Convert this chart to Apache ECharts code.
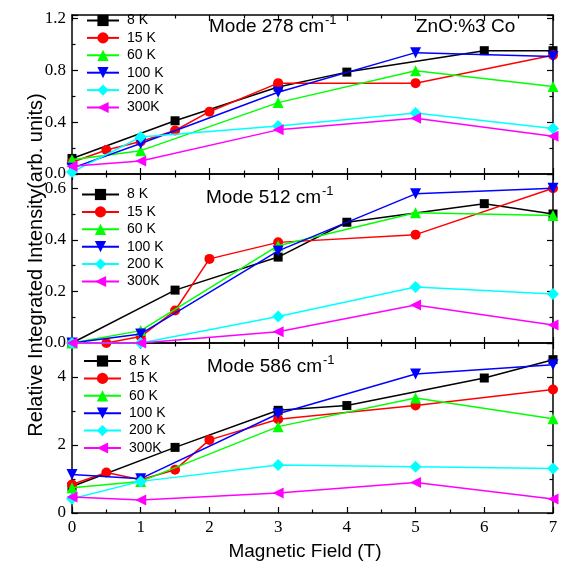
<!DOCTYPE html>
<html>
<head>
<meta charset="utf-8">
<script src="https://cdn.jsdelivr.net/npm/echarts@6/dist/echarts.min.js"></script>
<style>html,body{margin:0;padding:0;background:#fff}#c{width:567px;height:565px}</style>
</head>
<body>
<div id="c"></div>
<script>
// ---- data ----
const seriesNames = ['8 K', '15 K', '60 K', '100 K', '200 K', '300K'];
const xTicks = [0, 1, 2, 3, 4, 5, 6, 7];

// Mode 278 cm-1  [field (T), intensity]
const m278_8K   = [[0,0.12],[1.5,0.41],[3,0.67],[4,0.785],[6,0.95],[7,0.95]];
const m278_15K  = [[0,0.09],[0.5,0.185],[1,0.25],[1.5,0.335],[2,0.48],[3,0.70],[5,0.70],[7,0.915]];
const m278_60K  = [[0,0.11],[1,0.18],[3,0.55],[5,0.795],[7,0.675]];
const m278_100K = [[0,0.045],[1,0.235],[3,0.63],[5,0.935],[7,0.905]];
const m278_200K = [[0,0.015],[1,0.285],[3,0.37],[5,0.47],[7,0.35]];
const m278_300K = [[0,0.06],[1,0.10],[3,0.34],[5,0.43],[7,0.29]];

// Mode 512 cm-1
const m512_8K   = [[0,0],[1.5,0.205],[3,0.333],[4,0.468],[6,0.54],[7,0.50]];
const m512_15K  = [[0,0],[0.5,0],[1,0.025],[1.5,0.126],[2,0.326],[3,0.39],[5,0.42],[7,0.60]];
const m512_60K  = [[0,0],[1,0.048],[3,0.377],[5,0.505],[7,0.494]];
const m512_100K = [[0,0],[1,0.035],[3,0.357],[5,0.578],[7,0.60]];
const m512_200K = [[0,0],[1,0],[3,0.103],[5,0.217],[7,0.19]];
const m512_300K = [[0,0],[1,0],[3,0.044],[5,0.147],[7,0.07]];

// Mode 586 cm-1
const m586_8K   = [[0,0.78],[1.5,1.93],[3,3.02],[4,3.16],[6,3.97],[7,4.51]];
const m586_15K  = [[0,0.84],[0.5,1.19],[1,0.98],[1.5,1.27],[2,2.15],[3,2.76],[5,3.16],[7,3.63]];
const m586_60K  = [[0,0.74],[1,0.93],[3,2.54],[5,3.38],[7,2.77]];
const m586_100K = [[0,1.13],[1,1.01],[3,2.92],[5,4.09],[7,4.36]];
const m586_200K = [[0,0.42],[1,0.93],[3,1.41],[5,1.36],[7,1.31]];
const m586_300K = [[0,0.47],[1,0.38],[3,0.59],[5,0.90],[7,0.41]];

const panelLabels = ['Mode 278 cm', 'Mode 512 cm', 'Mode 586 cm'];
const yRanges = [[0, 1.225, 0.4], [0, 0.655, 0.2], [0, 5, 2]];

// ---- styles ----
const colors = ['#000000', '#ff0000', '#00ff00', '#0000ff', '#00ffff', '#ff00ff'];
const symbols = ['rect', 'circle', 'triangle', 'path://M0,0 L10,0 L5,10 Z', 'diamond', 'path://M0,5 L10,0 L10,10 Z'];
const symSizes = [9, 10, 11, 11, 12, 11];

const panelData = [
  [m278_8K, m278_15K, m278_60K, m278_100K, m278_200K, m278_300K],
  [m512_8K, m512_15K, m512_60K, m512_100K, m512_200K, m512_300K],
  [m586_8K, m586_15K, m586_60K, m586_100K, m586_200K, m586_300K]
];

const grids = [
  {left: 72, width: 481, top: 15, height: 159},
  {left: 72, width: 481, top: 174, height: 169},
  {left: 72, width: 481, top: 343, height: 170}
];

const axisLineStyle = {show: true, onZero: false, lineStyle: {color: '#000', width: 1.5}};
const tickStyle = {show: true, inside: true, length: 6, lineStyle: {color: '#000', width: 1.2}};
const minorStyle = {show: true, splitNumber: 2, length: 3.5, lineStyle: {color: '#000', width: 1.2}};
const labelFont = {fontFamily: 'Liberation Serif', fontSize: 17, color: '#000'};

const xAxes = [], yAxes = [], series = [], legends = [];
grids.forEach((g, i) => {
  const xi = xAxes.length;
  xAxes.push({
    gridIndex: i, type: 'value', min: 0, max: 7, interval: 1, position: 'bottom',
    axisLine: axisLineStyle, axisTick: tickStyle, minorTick: minorStyle, splitLine: {show: false},
    axisLabel: Object.assign({show: i === 2, margin: 6, formatter: v => xTicks.includes(v) ? String(v) : ''}, labelFont)
  });
  xAxes.push({
    gridIndex: i, type: 'value', min: 0, max: 7, interval: 1, position: 'top',
    axisLine: axisLineStyle, axisTick: tickStyle, minorTick: minorStyle, splitLine: {show: false},
    axisLabel: {show: false}
  });
  const yi = yAxes.length;
  const [mn, mx, iv] = yRanges[i];
  yAxes.push({
    gridIndex: i, type: 'value', min: mn, max: mx, interval: iv, position: 'left',
    axisLine: axisLineStyle, axisTick: tickStyle, minorTick: minorStyle, splitLine: {show: false},
    axisLabel: Object.assign({show: true, margin: 6, showMaxLabel: false,
      formatter: v => i === 2 ? String(Math.round(v)) : v.toFixed(1)}, labelFont)
  });
  yAxes.push({
    gridIndex: i, type: 'value', min: mn, max: mx, interval: iv, position: 'right',
    axisLine: axisLineStyle, axisTick: tickStyle, minorTick: minorStyle, splitLine: {show: false},
    axisLabel: {show: false}
  });
  panelData[i].forEach((d, k) => {
    series.push({
      type: 'line', name: seriesNames[k], xAxisIndex: xi, yAxisIndex: yi, data: d,
      symbol: symbols[k], symbolSize: symSizes[k], clip: false,
      lineStyle: {color: colors[k], width: 1.5},
      itemStyle: {color: colors[k]},
      emphasis: {disabled: true},
      z: 2 + k
    });
  });
});

const legendPos = [
  {left: 81, top: 8.5, itemWidth: 32},
  {left: 76, top: 182.5, itemWidth: 37},
  {left: 78, top: 349, itemWidth: 37}
];
legendPos.forEach(p => {
  legends.push({
    orient: 'vertical', left: p.left, top: p.top, itemWidth: p.itemWidth, itemHeight: 14, itemGap: 3.4,
    data: seriesNames, selectedMode: false,
    textStyle: {fontFamily: 'Liberation Sans', fontSize: 14, color: '#000', padding: [0, 0, 0, 3]}
  });
});

const titleFont = 'Liberation Sans';
const graphics = [
  {type: 'text', left: 209, top: 17, style: {text: panelLabels[0], font: '19px ' + titleFont, fill: '#000'}},
  {type: 'text', left: 325, top: 14, style: {text: '-1', font: '13px ' + titleFont, fill: '#000'}},
  {type: 'text', left: 416, top: 17, style: {text: 'ZnO:%3 Co', font: '19px ' + titleFont, fill: '#000'}},
  {type: 'text', left: 206, top: 188, style: {text: panelLabels[1], font: '19px ' + titleFont, fill: '#000'}},
  {type: 'text', left: 322, top: 185, style: {text: '-1', font: '13px ' + titleFont, fill: '#000'}},
  {type: 'text', left: 207, top: 357, style: {text: panelLabels[2], font: '19px ' + titleFont, fill: '#000'}},
  {type: 'text', left: 323, top: 354, style: {text: '-1', font: '13px ' + titleFont, fill: '#000'}},
  {type: 'text', x: 305, y: 552, style: {text: 'Magnetic Field (T)', font: '19px ' + titleFont, fill: '#000', align: 'center', verticalAlign: 'middle'}},
  {type: 'text', x: 36, y: 265, rotation: Math.PI / 2, style: {text: 'Relative Integrated Intensity(arb. units)', font: '20px ' + titleFont, fill: '#000', align: 'center', verticalAlign: 'middle'}}
];

const chart = echarts.init(document.getElementById('c'), null, {renderer: 'canvas'});
chart.setOption({
  animation: false,
  backgroundColor: '#fff',
  grid: grids,
  xAxis: xAxes,
  yAxis: yAxes,
  legend: legends,
  series: series,
  graphic: graphics
});
</script>
</body>
</html>
